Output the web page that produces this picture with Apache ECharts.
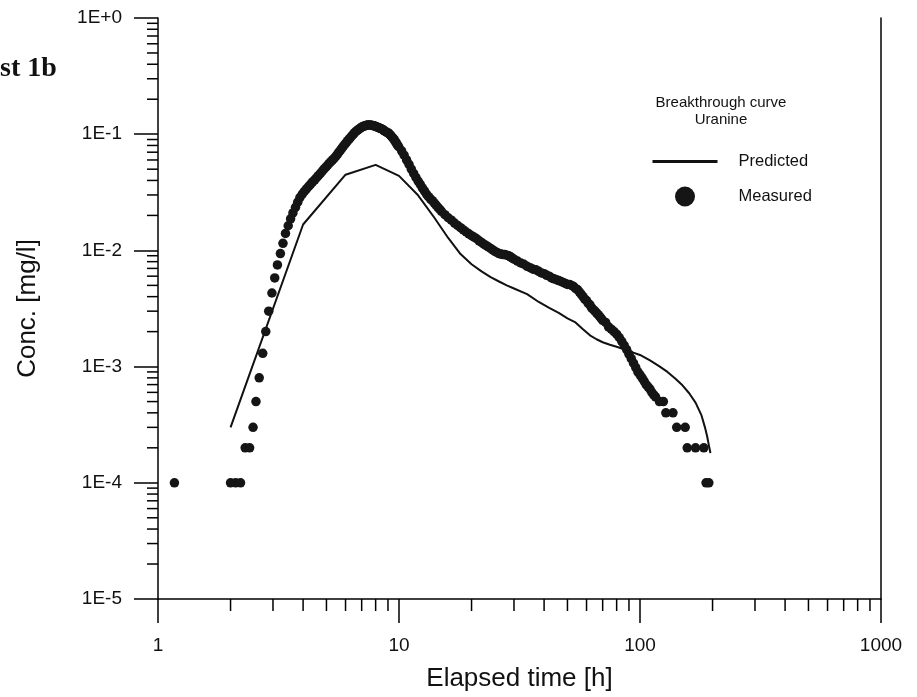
<!DOCTYPE html>
<html>
<head>
<meta charset="utf-8">
<script src="https://cdn.jsdelivr.net/npm/echarts@6/dist/echarts.min.js"></script>
<style>
html,body{margin:0;padding:0;background:#fff;}
#chart{width:917px;height:697px;}
</style>
</head>
<body>
<div id="chart"></div>
<script>
// ---- Data ----
const measT = [1.17,2.0,2.1,2.2,2.3,2.4,2.48,2.55,2.63,2.72,2.8,2.88,2.97,3.05,3.13,3.22,3.3,3.38,3.47,3.55,3.63,3.72,3.8,3.88,3.97,4.05,4.13,4.22,4.3,4.38,4.47,4.55,4.63,4.72,4.8,4.88,4.97,5.05,5.13,5.22,5.3,5.38,5.47,5.55,5.63,5.72,5.8,5.88,5.97,6.05,6.13,6.22,6.3,6.38,6.47,6.55,6.63,6.72,6.8,6.88,6.97,7.05,7.13,7.22,7.3,7.38,7.47,7.55,7.63,7.72,7.8,7.88,7.97,8.05,8.13,8.22,8.3,8.38,8.47,8.55,8.63,8.72,8.8,8.88,8.97,9.05,9.13,9.22,9.3,9.38,9.47,9.55,9.63,9.72,9.8,9.88,9.97,10.25,10.5,10.75,11.0,11.25,11.5,11.75,12.0,12.25,12.5,12.75,13.0,13.25,13.5,13.75,14.0,14.25,14.5,14.75,15.0,15.5,16.0,16.5,17.0,17.5,18.0,18.5,19.0,19.5,20.0,20.5,21.0,21.5,22.0,22.5,23.0,23.5,24.0,24.5,25.0,25.5,26.0,26.5,27.0,27.5,28.0,28.5,29.0,29.5,30,31,32,33,34,35,36,37,38,39,40,41,42,43,44,45,46,47,48,49,50,51,52,53,54,55,56,57,58,59,60,61,62,63,64,65,66,67,68,69,70,72,74,76,78,80,82,84,86,88,90,92,94,96,98,100,102,104,106,108,110,112,114,116,120.4,125,128,137,142,154,157,170,184,188,193];
const measC = [1e-4,1e-4,1e-4,1e-4,2e-4,2e-4,3e-4,5e-4,8e-4,1.3e-3,2.0e-3,3.0e-3,4.3e-3,5.8e-3,7.5e-3,9.4e-3,1.15e-2,1.4e-2,1.63e-2,1.87e-2,2.1e-2,2.35e-2,2.6e-2,2.85e-2,3.05e-2,3.22e-2,3.38e-2,3.55e-2,3.72e-2,3.88e-2,4.05e-2,4.22e-2,4.4e-2,4.6e-2,4.8e-2,5.0e-2,5.2e-2,5.4e-2,5.6e-2,5.8e-2,6.0e-2,6.2e-2,6.45e-2,6.7e-2,7.0e-2,7.3e-2,7.6e-2,7.9e-2,8.2e-2,8.5e-2,8.8e-2,9.1e-2,9.4e-2,9.7e-2,0.1,0.103,0.106,0.108,0.11,0.112,0.114,0.116,0.117,0.118,0.119,0.12,0.12,0.12,0.12,0.119,0.119,0.118,0.117,0.116,0.115,0.114,0.113,0.112,0.111,0.11,0.108,0.107,0.105,0.104,0.103,0.102,0.1,0.098,0.096,0.094,0.092,0.09,0.087,0.085,0.082,0.08,0.078,0.072,0.066,0.06,0.055,0.05,0.046,0.0425,0.0395,0.037,0.0345,0.0325,0.0305,0.029,0.0278,0.0268,0.0256,0.0245,0.0235,0.0226,0.0217,0.0203,0.0191,0.0182,0.0172,0.0164,0.0157,0.015,0.0144,0.0139,0.0134,0.013,0.0126,0.0121,0.0117,0.0113,0.011,0.0107,0.0104,0.0101,0.0098,0.0096,0.0094,0.0093,0.0092,0.0092,0.0091,0.009,0.0088,0.0086,0.0084,0.0081,0.0078,0.0076,0.0073,0.0071,0.0069,0.0068,0.0066,0.0064,0.0063,0.0061,0.006,0.0058,0.0057,0.0056,0.0055,0.0054,0.0053,0.0052,0.0051,0.0051,0.005,0.0049,0.0047,0.0046,0.0044,0.0042,0.004,0.0038,0.0037,0.0035,0.0034,0.0032,0.0031,0.003,0.0029,0.0028,0.0027,0.0026,0.0025,0.0024,0.0022,0.0021,0.002,0.0019,0.00178,0.00165,0.00152,0.0014,0.00128,0.00117,0.00107,0.00098,0.0009,0.00085,0.0008,0.00075,0.0007,0.00067,0.00064,0.0006,0.00057,0.00055,5e-4,5e-4,4e-4,4e-4,3e-4,3e-4,2e-4,2e-4,2e-4,1e-4,1e-4];

const predT = [2,4,6,8,10,12,14,16,18,20,22,24,26,28,30,34,38,42,46,50,54,58,62,66,70,75,80,90,100,110,120,130,140,150,160,170,180,186,190,194,196];
const predC = [3.0e-4,0.0167,0.0448,0.0545,0.0438,0.0298,0.0192,0.0128,0.0093,0.0076,0.0066,0.0059,0.0054,0.0050,0.0047,0.0042,0.0036,0.0032,0.0029,0.0026,0.0024,0.0021,0.00186,0.00172,0.00162,0.00154,0.00148,0.00136,0.00126,0.00113,0.00101,0.0009,0.00079,0.00069,0.00059,0.00049,0.00038,0.0003,0.00025,0.0002,0.00018];

const xMinorTicks = [2,3,4,5,6,7,8,9,20,30,40,50,60,70,80,90,200,300,400,500,600,700,800,900];
const yMinorTicks = [2e-5,3e-5,4e-5,5e-5,6e-5,7e-5,8e-5,9e-5,2e-4,3e-4,4e-4,5e-4,6e-4,7e-4,8e-4,9e-4,2e-3,3e-3,4e-3,5e-3,6e-3,7e-3,8e-3,9e-3,2e-2,3e-2,4e-2,5e-2,6e-2,7e-2,8e-2,9e-2,0.2,0.3,0.4,0.5,0.6,0.7,0.8,0.9];

const xMin = 1, xMax = 1000, yMin = 1e-5, yMax = 1;
const titleLines = ['Breakthrough curve', 'Uranine'];
const panelLabel = 'st 1b';

// ---- Chart ----
const FONT = "'Liberation Sans', Arial, sans-serif";
const INK = '#111';
const chart = echarts.init(document.getElementById('chart'), null, {renderer: 'canvas'});

function expLabel(v) {
  const e = Math.round(Math.log10(v));
  return '1E' + (e >= 0 ? '+' : '-') + Math.abs(e);
}

const option = {
  backgroundColor: '#fff',
  animation: false,
  title: [
    {text: titleLines[0], left: 716, top: 90, textAlign: 'center',
     textStyle: {fontFamily: FONT, fontSize: 15, fontWeight: 'normal', color: INK}},
    {text: titleLines[1], left: 716, top: 107, textAlign: 'center',
     textStyle: {fontFamily: FONT, fontSize: 15, fontWeight: 'normal', color: INK}},
    {text: panelLabel, left: -5, top: 50,
     textStyle: {fontFamily: "'Liberation Serif', 'Times New Roman', serif", fontSize: 28, fontWeight: 'bold', color: INK}}
  ],
  legend: {
    data: [
      {name: 'Predicted', itemStyle: {opacity: 0, color: 'rgba(0,0,0,0)', borderColor: 'rgba(0,0,0,0)'}},
      {name: 'Measured', itemStyle: {color: '#151515', opacity: 1}}
    ],
    orient: 'vertical',
    left: 651, top: 153,
    itemWidth: 65, itemHeight: 20, itemGap: 16.5,
    padding: 0,
    textStyle: {fontFamily: FONT, fontSize: 16.5, color: INK, padding: [0, 0, 0, 16]},
    lineStyle: {width: 3, color: INK}
  },
  grid: {left: 158, right: 36, top: 18, bottom: 98, containLabel: false},
  xAxis: {
    type: 'log', logBase: 10, min: xMin, max: xMax,
    name: 'Elapsed time [h]', nameLocation: 'middle', nameGap: 67,
    nameTextStyle: {fontFamily: FONT, fontSize: 26, color: INK},
    axisLine: {show: true, lineStyle: {color: '#000', width: 1.5}},
    axisTick: {show: true, inside: false, length: 24, lineStyle: {color: '#000', width: 1.5}},
    axisLabel: {margin: 37, fontFamily: FONT, fontSize: 19, color: INK,
                formatter: v => String(Math.round(v))},
    splitLine: {show: false}
  },
  yAxis: [{
    type: 'log', logBase: 10, min: yMin, max: yMax,
    name: 'Conc. [mg/l]', nameLocation: 'middle', nameGap: 117,
    nameTextStyle: {fontFamily: FONT, fontSize: 26, color: INK},
    axisLine: {show: true, lineStyle: {color: '#000', width: 1.5}},
    axisTick: {show: true, inside: false, length: 24, lineStyle: {color: '#000', width: 1.5}},
    axisLabel: {margin: 36, fontFamily: FONT, fontSize: 19, color: INK, formatter: expLabel},
    splitLine: {show: false}
  }, {
    type: 'log', logBase: 10, min: yMin, max: yMax, position: 'right',
    axisLine: {show: true, onZero: false, lineStyle: {color: '#000', width: 1.5}},
    axisTick: {show: false}, axisLabel: {show: false}, splitLine: {show: false}
  }],
  series: [
    {
      type: 'custom', name: 'xminor', silent: true, clip: false,
      xAxisIndex: 0, yAxisIndex: 0,
      data: xMinorTicks.map(v => [v, yMin]),
      renderItem: function (params, api) {
        const p = api.coord([api.value(0), api.value(1)]);
        return {type: 'line', shape: {x1: p[0], y1: p[1], x2: p[0], y2: p[1] + 12},
                style: {stroke: '#000', lineWidth: 1.5}};
      }
    },
    {
      type: 'custom', name: 'yminor', silent: true, clip: false,
      xAxisIndex: 0, yAxisIndex: 0,
      data: yMinorTicks.map(v => [xMin, v]),
      renderItem: function (params, api) {
        const p = api.coord([api.value(0), api.value(1)]);
        return {type: 'line', shape: {x1: p[0] - 11, y1: p[1], x2: p[0], y2: p[1]},
                style: {stroke: '#000', lineWidth: 1.5}};
      }
    },
    {
      name: 'Predicted', type: 'line', symbol: 'none',
      xAxisIndex: 0, yAxisIndex: 0,
      lineStyle: {color: INK, width: 2},
      itemStyle: {color: INK},
      data: predT.map((t, i) => [t, predC[i]]),
      z: 2
    },
    {
      name: 'Measured', type: 'scatter', symbol: 'circle', symbolSize: 9.5,
      xAxisIndex: 0, yAxisIndex: 0,
      itemStyle: {color: '#151515', opacity: 1},
      data: measT.map((t, i) => [t, measC[i]]),
      z: 3
    }
  ]
};
chart.setOption(option);
</script>
</body>
</html>
